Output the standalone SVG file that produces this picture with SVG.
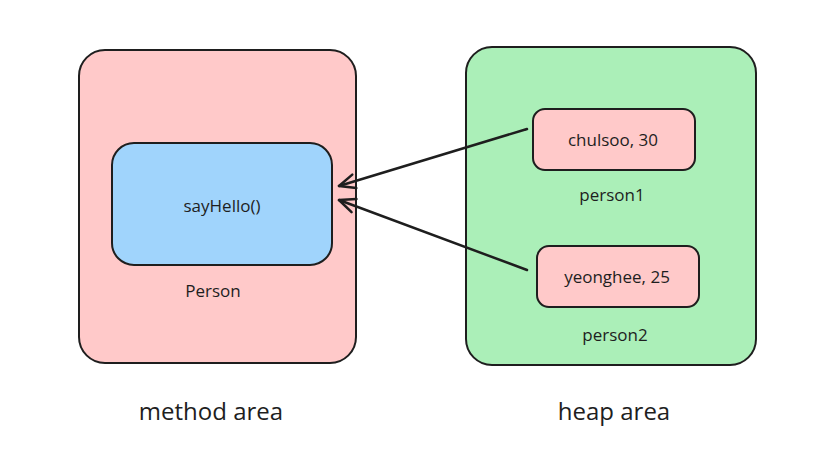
<svg xmlns="http://www.w3.org/2000/svg" width="832" height="464" viewBox="0 0 832 464">
<defs>
<style>
.box{stroke:#1e1e1e;stroke-width:2;}
.pink{fill:#ffc9c9;}
.blue{fill:#a0d4fc;}
.green{fill:#abefb8;}
text{font-family:"Open Sans","Liberation Sans",sans-serif;fill:#1e1e1e;text-anchor:middle;dominant-baseline:central;}
.t{font-size:17px;}
.big{font-size:24px;}
.conn{stroke:#1e1e1e;stroke-width:2.5;fill:none;stroke-linecap:round;stroke-linejoin:round;}
</style>
<marker id="arr" markerWidth="20" markerHeight="20" viewBox="0 0 20 20" refX="18" refY="10" orient="auto" markerUnits="userSpaceOnUse">
<path d="M2,3 L18,10 L2,17" fill="none" stroke="#1e1e1e" stroke-width="2.5" stroke-linecap="round" stroke-linejoin="round"/>
</marker>
</defs>
<rect width="832" height="464" fill="#ffffff"/>
<g id="method-area">
<rect class="box pink" x="79" y="50" width="277" height="313" rx="26"/>
<text class="big" x="211" y="410">method area</text>
</g>
<g id="sayHello">
<rect class="box blue" x="112" y="143" width="220" height="122" rx="22"/>
<text class="t" x="222" y="205">sayHello()</text>
</g>
<text id="person-label" class="t" x="213" y="290">Person</text>
<g id="heap-area">
<rect class="box green" x="466" y="47" width="290" height="318" rx="26"/>
<text class="big" x="614" y="410">heap area</text>
</g>
<g id="person1">
<rect class="box pink" x="533" y="109" width="162" height="61" rx="12"/>
<text class="t" x="613" y="139">chulsoo, 30</text>
<text class="t" x="612" y="194">person1</text>
</g>
<g id="person2">
<rect class="box pink" x="537" y="246" width="162" height="61" rx="12"/>
<text class="t" x="617" y="276">yeonghee, 25</text>
<text class="t" x="615" y="334">person2</text>
</g>
<g id="connectors">
<path class="conn" d="M527,129 L339,186" marker-end="url(#arr)"/>
<path class="conn" d="M527,270 L339,200" marker-end="url(#arr)"/>
</g>
</svg>
